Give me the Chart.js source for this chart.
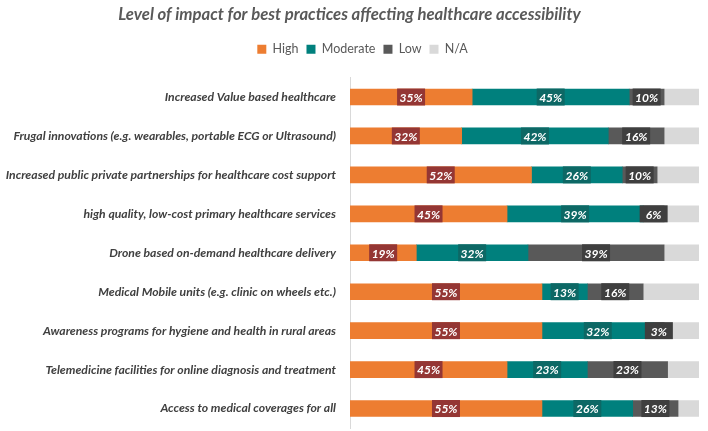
<!DOCTYPE html>
<html>
<head>
<meta charset="utf-8">
<script src="https://cdn.jsdelivr.net/npm/chart.js@4.4.1/dist/chart.umd.min.js"></script>
<style>
    html, body { margin: 0; padding: 0; background: #fff; }
</style>
</head>
<body>
<canvas id="impactChart" width="708" height="431"></canvas>
<script>
// Categories and series values (percent of respondents)
const categories = [
    "Increased Value based healthcare",
    "Frugal innovations (e.g. wearables, portable ECG or Ultrasound)",
    "Increased public private partnerships for healthcare cost support",
    "high quality, low-cost primary healthcare services",
    "Drone based on-demand healthcare delivery",
    "Medical Mobile units (e.g. clinic on wheels etc.)",
    "Awareness programs for hygiene and health in rural areas",
    "Telemedicine facilities for online diagnosis and treatment",
    "Access to medical coverages for all"
];
const high = [35, 32, 52, 45, 19, 55, 55, 45, 55];
const moderate = [45, 42, 26, 39, 32, 13, 32, 23, 26];
const low = [10, 16, 10, 6, 39, 16, 3, 23, 13];
const notApplicable = [10, 10, 12, 10, 10, 16, 10, 9, 6];

const seriesNames = ["High", "Moderate", "Low", "N/A"];
const barColors = ["#ED7D31", "#00807D", "#595959", "#D9D9D9"];
const tagColors = ["#943634", "#0D6865", "#3F3F3F", null];

const fontFamily = "Lato, 'Liberation Sans', sans-serif";

// Draws the little boxed percentage labels in the middle of each segment
const tagPlugin = {
    id: "tags",
    afterDatasetsDraw(chart) {
        const ctx = chart.ctx;
        ctx.save();
        ctx.font = "italic bold 12px " + fontFamily;
        ctx.textAlign = "center";
        ctx.textBaseline = "middle";
        chart.data.datasets.forEach((ds, i) => {
            if (!tagColors[i]) return;
            chart.getDatasetMeta(i).data.forEach((bar, j) => {
                const cx = (bar.x + bar.base) / 2;
                const w = 28, h = 17;
                ctx.fillStyle = tagColors[i];
                ctx.fillRect(cx - w / 2, bar.y - h / 2, w, h);
                ctx.fillStyle = "#ffffff";
                ctx.fillText(ds.data[j] + "%", cx, bar.y + 1);
            });
        });
        ctx.restore();
    }
};

// Push the plot area down below the legend, and nudge the legend a little right
const legendGap = {
    id: "legendGap",
    beforeInit(chart) {
        const fit = chart.legend.fit;
        chart.legend.fit = function () {
            fit.call(this);
            this.height += 12;
        };
    },
    afterLayout(chart) {
        chart.legend.left += 13;
        chart.legend.right += 13;
    }
};

const seriesData = [high, moderate, low, notApplicable];

new Chart(document.getElementById("impactChart"), {
    type: "bar",
    data: {
        labels: categories,
        datasets: seriesNames.map((name, i) => ({
            label: name,
            data: seriesData[i],
            backgroundColor: barColors[i],
            barThickness: 16
        }))
    },
    options: {
        indexAxis: "y",
        responsive: false,
        animation: false,
        layout: { padding: { left: 0, right: 9, top: 0, bottom: 3 } },
        scales: {
            x: { stacked: true, min: 0, max: 100, display: false },
            y: {
                stacked: true,
                grid: { display: false, drawTicks: false },
                border: { color: "#D9D9D9", width: 1 },
                ticks: {
                    padding: 14,
                    color: "#404040",
                    font: { family: fontFamily, size: 12.2, style: "italic", weight: "bold" }
                },
                afterFit(scale) {
                    scale.width = 350;
                    scale.paddingTop = 0;
                    scale.paddingBottom = 0;
                }
            }
        },
        plugins: {
            title: {
                display: true,
                text: "Level of impact for best practices affecting healthcare accessibility",
                color: "#595959",
                font: { family: fontFamily, size: 16.7, style: "italic", weight: "bold" },
                padding: { top: 5, bottom: 10 }
            },
            legend: {
                labels: {
                    boxWidth: 9,
                    boxHeight: 9,
                    color: "#595959",
                    font: { family: fontFamily, size: 12.5 },
                    padding: 8
                }
            },
            tooltip: { enabled: false }
        }
    },
    plugins: [tagPlugin, legendGap]
});
</script>
</body>
</html>
